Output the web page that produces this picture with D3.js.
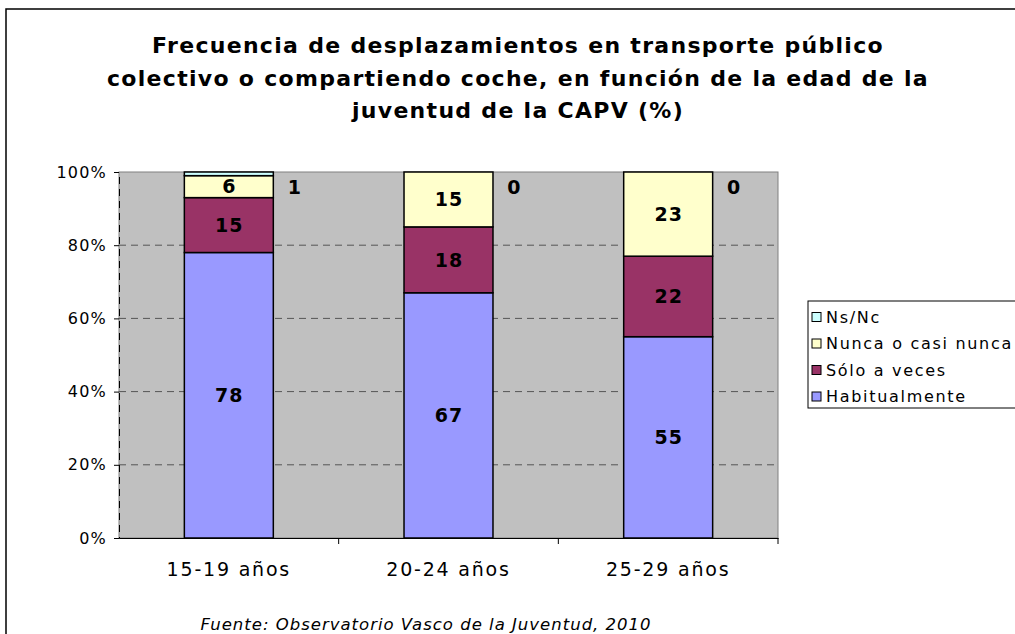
<!DOCTYPE html>
<html>
<head>
<meta charset="utf-8">
<script src="https://cdn.jsdelivr.net/npm/d3@7"></script>
<style>
  body { margin: 0; background: #fff; }
  svg { display: block; font-family: "DejaVu Sans", Verdana, sans-serif; }
</style>
</head>
<body>
<svg id="chart"></svg>
<script>
/// data ///
const categories = ["15-19 años", "20-24 años", "25-29 años"];
const habitualmente = [78, 67, 55];
const soloAVeces = [15, 18, 22];
const nuncaOCasiNunca = [6, 15, 23];
const nsNc = [1, 0, 0];
const yTicks = [0, 20, 40, 60, 80, 100];

const seriesNames = ["Habitualmente", "Sólo a veces", "Nunca o casi nunca", "Ns/Nc"];
const seriesValues = [habitualmente, soloAVeces, nuncaOCasiNunca, nsNc];
const colors = ["#9999ff", "#993366", "#ffffcc", "#ccffff"];

/// dimensions ///
const width = 1015;
const height = 634;
const margin = {top: 172, right: 237, bottom: 96, left: 119};

const rows = categories.map((c, i) => {
  const r = {cat: c};
  seriesNames.forEach((s, j) => r[s] = seriesValues[j][i]);
  return r;
});
const stacked = d3.stack().keys(seriesNames)(rows);

/// scales ///
const x = d3.scaleBand()
  .domain(categories)
  .range([margin.left, width - margin.right])
  .paddingInner(0)
  .paddingOuter(0);
const y = d3.scaleLinear()
  .domain([0, 100])
  .range([height - margin.bottom, margin.top]);
const barW = x.bandwidth() * 0.405;
const barX = c => x(c) + (x.bandwidth() - barW) / 2;

const svg = d3.select("#chart")
  .attr("width", width)
  .attr("height", height);

// outer frame
svg.append("rect")
  .attr("x", 6).attr("y", 9)
  .attr("width", 1100).attr("height", 700)
  .attr("fill", "#fff")
  .attr("stroke", "#000")
  .attr("stroke-width", 1.5);

// title
const title = ["Frecuencia de desplazamientos en transporte público",
  "colectivo o compartiendo coche, en función de la edad de la",
  "juventud de la CAPV (%)"];
svg.append("text")
  .attr("text-anchor", "middle")
  .attr("font-size", 22)
  .attr("font-weight", "bold")
  .attr("letter-spacing", 1.3)
  .selectAll("tspan")
  .data(title)
  .join("tspan")
    .attr("x", 518)
    .attr("y", (d, i) => 53 + i * 32.5)
    .text(d => d);

// plot area
svg.append("rect")
  .attr("x", margin.left).attr("y", margin.top)
  .attr("width", width - margin.left - margin.right)
  .attr("height", height - margin.top - margin.bottom)
  .attr("fill", "#c0c0c0")
  .attr("stroke", "#808080")
  .attr("stroke-width", 1);

// gridlines
svg.append("g")
  .selectAll("line")
  .data(yTicks.filter(t => t > 0 && t < 100))
  .join("line")
    .attr("x1", margin.left).attr("x2", width - margin.right)
    .attr("y1", d => y(d)).attr("y2", d => y(d))
    .attr("stroke", "#555")
    .attr("stroke-width", 1)
    .attr("stroke-dasharray", "7,5");

// bars
svg.append("g")
  .selectAll("g")
  .data(stacked)
  .join("g")
    .attr("fill", (d, i) => colors[i])
  .selectAll("rect")
  .data(d => d)
  .join("rect")
    .attr("x", d => barX(d.data.cat))
    .attr("y", d => y(d[1]))
    .attr("width", barW)
    .attr("height", d => y(d[0]) - y(d[1]))
    .attr("stroke", "#000")
    .attr("stroke-width", 1.5);

// value labels inside bars
svg.append("g")
  .attr("font-size", 19)
  .attr("font-weight", "bold")
  .attr("letter-spacing", 1)
  .attr("text-anchor", "middle")
  .selectAll("text")
  .data(stacked.slice(0, 3).flatMap(s => s))
  .join("text")
    .attr("x", d => barX(d.data.cat) + barW / 2 + 0.5)
    .attr("y", d => (y(d[0]) + y(d[1])) / 2)
    .attr("dy", "0.36em")
    .text(d => d[1] - d[0]);

// Ns/Nc labels beside the bars
svg.append("g")
  .attr("font-size", 19)
  .attr("font-weight", "bold")
  .attr("text-anchor", "middle")
  .selectAll("text")
  .data(stacked[3])
  .join("text")
    .attr("x", d => barX(d.data.cat) + barW + 21)
    .attr("y", d => y(d[1]) + 15)
    .attr("dy", "0.36em")
    .text(d => d[1] - d[0]);

// y axis
const yAxis = g => g
  .attr("transform", `translate(${margin.left},0)`)
  .call(d3.axisLeft(y).tickValues(yTicks).tickFormat(d => d + "%").tickSize(5).tickPadding(7))
  .call(g => g.select(".domain").attr("stroke", "#000").attr("stroke-dasharray", "7,5"))
  .call(g => g.selectAll(".tick line").attr("stroke", "#000"))
  .call(g => g.selectAll(".tick text")
    .attr("font-family", "DejaVu Sans, sans-serif")
    .attr("letter-spacing", 1.2)
    .attr("font-size", 16).attr("fill", "#000"));
svg.append("g").call(yAxis);

// x axis
const xAxis = g => g
  .attr("transform", `translate(0,${height - margin.bottom})`)
  .call(d3.axisBottom(x).tickSize(0).tickPadding(25))
  .call(g => g.select(".domain").attr("stroke", "#000"))
  .call(g => g.selectAll(".tick text")
    .attr("font-family", "DejaVu Sans, sans-serif")
    .attr("letter-spacing", 1.8)
    .attr("font-size", 19).attr("fill", "#000"));
svg.append("g").call(xAxis);

// category separators on the x axis
svg.append("g")
  .selectAll("line")
  .data(categories.slice(1).concat([null]))
  .join("line")
    .attr("x1", d => d ? x(d) : width - margin.right)
    .attr("x2", d => d ? x(d) : width - margin.right)
    .attr("y1", height - margin.bottom)
    .attr("y2", height - margin.bottom + 6)
    .attr("stroke", "#000");

// legend
const legend = svg.append("g");
legend.append("rect")
  .attr("x", 808).attr("y", 301)
  .attr("width", 260).attr("height", 107)
  .attr("fill", "#fff")
  .attr("stroke", "#000")
  .attr("stroke-width", 1);
const items = seriesNames.map((s, i) => ({name: s, color: colors[i]})).reverse();
const li = legend.selectAll("g.item")
  .data(items)
  .join("g")
    .attr("class", "item")
    .attr("transform", (d, i) => `translate(812, ${317 + i * 26.5})`);
li.append("rect")
  .attr("x", 0).attr("y", -4.5)
  .attr("width", 9).attr("height", 9)
  .attr("fill", d => d.color)
  .attr("stroke", "#000")
  .attr("stroke-width", 1);
li.append("text")
  .attr("x", 14)
  .attr("dy", "0.36em")
  .attr("font-size", 16)
  .attr("letter-spacing", 1.7)
  .text(d => d.name);

// source
svg.append("text")
  .attr("x", 426).attr("y", 630)
  .attr("text-anchor", "middle")
  .attr("font-size", 16.5)
  .attr("letter-spacing", 1)
  .attr("font-style", "italic")
  .text("Fuente: Observatorio Vasco de la Juventud, 2010");
</script>
</body>
</html>
